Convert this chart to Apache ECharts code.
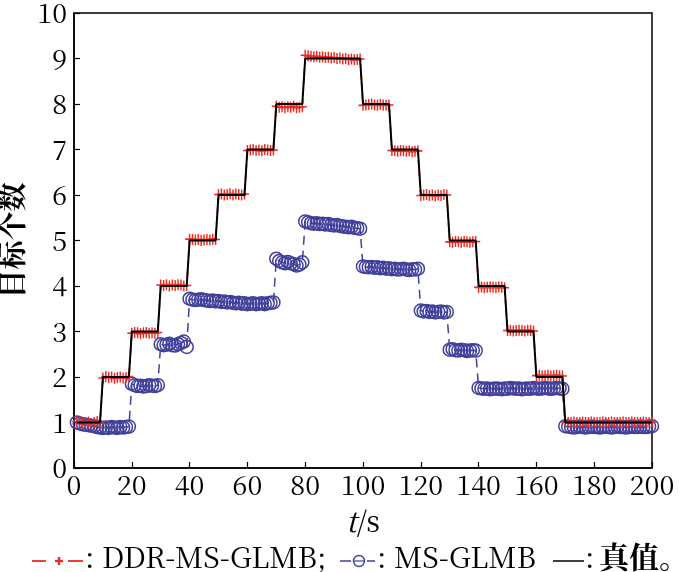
<!DOCTYPE html>
<html>
<head>
<meta charset="utf-8">
<script src="https://cdn.jsdelivr.net/npm/echarts@6/dist/echarts.min.js"></script>
<style>
  html, body { margin: 0; padding: 0; background: #fff; }
  #chart { width: 700px; height: 572px; }
</style>
</head>
<body>
<div id="chart"></div>
<script>
// 时间步 t = 1..200
const xTicks = [0, 20, 40, 60, 80, 100, 120, 140, 160, 180, 200]
const yTicks = [0, 1, 2, 3, 4, 5, 6, 7, 8, 9, 10]

// 真值 (阶梯折点)
const truthT = [1, 9, 10, 19, 20, 29, 30, 39, 40, 49, 50, 59, 60, 69, 70, 79, 80, 99,
  100, 109, 110, 119, 120, 129, 130, 139, 140, 149, 150, 159, 160, 169, 170, 200]
const truthN = [1, 1, 2, 2, 3, 3, 4, 4, 5, 5, 6, 6, 7, 7, 8, 8, 9, 9,
  8, 8, 7, 7, 6, 6, 5, 5, 4, 4, 3, 3, 2, 2, 1, 1]

// DDR-MS-GLMB 估计
const ddrN = [
  1.02, 1.01, 0.99, 1.0, 1.01, 0.98, 1.0, 1.02, 0.99,
  1.98, 2.01, 1.99, 2.0, 1.97, 1.99, 2.0, 1.98, 1.99, 2.01,
  2.96, 2.98, 2.97, 2.95, 2.97, 2.98, 2.96, 2.97, 2.96, 2.98,
  4.02, 4.01, 4.03, 4.0, 4.02, 4.01, 4.03, 4.02, 4.0, 4.01,
  5.03, 5.02, 5.01, 5.02, 5.0, 5.01, 5.02, 5.01, 5.03, 5.02,
  6.01, 6.02, 6.0, 6.01, 6.03, 6.0, 6.02, 6.01, 6.0, 6.02,
  6.98, 6.99, 7.0, 6.98, 6.99, 6.97, 7.0, 6.99, 6.98, 6.99,
  7.95, 7.93, 7.94, 7.92, 7.94, 7.93, 7.95, 7.92, 7.93, 7.94,
  9.07, 9.06, 9.05, 9.04, 9.05, 9.03, 9.04, 9.02, 9.03, 9.01,
  9.02, 9.0, 9.01, 8.99, 9.0, 8.98, 8.99, 8.97, 8.98, 8.99,
  7.97, 7.98, 7.99, 8.0, 7.98, 7.97, 7.99, 7.98, 7.97, 7.98,
  6.98, 6.97, 6.96, 6.98, 6.97, 6.96, 6.97, 6.95, 6.96, 6.97,
  5.99, 6.0, 6.01, 5.99, 6.0, 5.98, 6.0, 5.99, 6.01, 6.0,
  4.97, 4.96, 4.98, 4.97, 4.96, 4.98, 4.97, 4.96, 4.97, 4.98,
  3.97, 3.98, 3.96, 3.97, 3.98, 3.97, 3.96, 3.98, 3.97, 3.96,
  3.02, 3.03, 3.01, 3.02, 3.03, 3.02, 3.01, 3.03, 3.02, 3.01,
  2.03, 2.04, 2.02, 2.03, 2.04, 2.02, 2.03, 2.04, 2.03, 2.02,
  1.01, 1.0, 1.0, 1.01, 1.0, 1.0, 1.01, 1.0, 1.0, 1.01,
  1.0, 1.0, 1.0, 1.01, 1.0, 1.0, 1.01, 1.0, 1.0, 1.0,
  1.01, 1.0, 1.0, 1.01, 1.0, 1.0, 1.0, 1.01, 1.0, 1.0, 1.01
]

// MS-GLMB 估计
const msN = [
  1.0, 0.98, 0.96, 0.95, 0.94, 0.93, 0.92, 0.9, 0.89, 0.88,
  0.89, 0.88, 0.9, 0.89, 0.88, 0.9, 0.89, 0.9, 0.91,
  1.85, 1.82, 1.8, 1.81, 1.79, 1.8, 1.82, 1.81, 1.8, 1.82,
  2.72, 2.7, 2.71, 2.73, 2.7, 2.69, 2.72, 2.75, 2.78, 2.66,
  3.72, 3.7, 3.69, 3.7, 3.71, 3.69, 3.68, 3.67, 3.68, 3.66,
  3.67, 3.65, 3.66, 3.64, 3.65, 3.63, 3.62, 3.63, 3.61, 3.62,
  3.6, 3.61, 3.62, 3.6, 3.61, 3.62, 3.6, 3.62, 3.63, 3.64,
  4.6, 4.55, 4.52, 4.5, 4.53, 4.5, 4.48, 4.45, 4.47, 4.52,
  5.42, 5.4, 5.38, 5.37, 5.38, 5.36, 5.37, 5.35, 5.36, 5.34,
  5.33, 5.34, 5.32, 5.31, 5.3, 5.29, 5.3, 5.28, 5.27, 5.26,
  4.43, 4.42, 4.41, 4.42, 4.4, 4.41, 4.39, 4.4, 4.38, 4.39,
  4.37, 4.38, 4.36, 4.37, 4.38, 4.36, 4.35, 4.37, 4.36, 4.38,
  3.46, 3.44, 3.45, 3.43, 3.44, 3.42, 3.43, 3.44, 3.42, 3.43,
  2.6, 2.61, 2.59, 2.58, 2.6, 2.59, 2.57, 2.58, 2.59, 2.58,
  1.76, 1.75, 1.74, 1.75, 1.73, 1.74, 1.75, 1.74, 1.73, 1.75,
  1.74, 1.76, 1.75, 1.74, 1.75, 1.73, 1.74, 1.75, 1.74, 1.76,
  1.75, 1.74, 1.75, 1.76, 1.75, 1.74, 1.75, 1.76, 1.75, 1.74,
  0.92, 0.91, 0.9, 0.89, 0.9, 0.91, 0.9, 0.89, 0.9, 0.91,
  0.9, 0.9, 0.89, 0.9, 0.91, 0.9, 0.89, 0.9, 0.91, 0.9,
  0.9, 0.89, 0.9, 0.91, 0.9, 0.9, 0.91, 0.9, 0.9, 0.91, 0.92
]

const RED = '#ee2b21'
const BLUE = '#40409c'
// 西文与中文都用 Noto Serif CJK SC (自带衬线西文字形)
const SERIF = 'Noto Serif CJK SC'
const CJK = 'Noto Serif CJK SC'
const PLUS = 'path://M4.2,0H5.8V4.3H10V5.7H5.8V10H4.2V5.7H0V4.3H4.2Z'

const steps = ddrN.map((v, i) => i + 1)
const ddrData = ddrN.map((v, i) => [steps[i], v])
const msData = msN.map((v, i) => [steps[i], v])
const truthData = truthN.map((v, i) => [truthT[i], v])

const myChart = echarts.init(document.getElementById('chart'), null, { renderer: 'canvas' })

const legendY = 561
const txt = (x, text, family, size, weight) => ({
  type: 'text', x: x, y: 557,
  style: { text: text, fontFamily: family, fontSize: size, fontWeight: weight || 'normal', fill: '#000', verticalAlign: 'middle' }
})

myChart.setOption({
  animation: false,
  backgroundColor: '#fff',
  textStyle: { fontFamily: SERIF },
  grid: {
    left: 74, right: 48, top: 13, bottom: 104,
    outerBoundsMode: 'none', containLabel: false,
    show: true, borderColor: '#000', borderWidth: 1.5
  },
  xAxis: {
    type: 'value', min: 0, max: 200, interval: 20,
    name: '{i|t}/s', nameLocation: 'middle', nameGap: 38,
    nameTextStyle: {
      fontFamily: SERIF, fontSize: 29, color: '#000',
      rich: { i: { fontFamily: SERIF, fontSize: 29, fontStyle: 'italic', color: '#000' } }
    },
    axisLine: { lineStyle: { color: '#000', width: 1.5 } },
    axisTick: { inside: true, length: 6, lineStyle: { color: '#000', width: 1.2 } },
    axisLabel: { fontFamily: SERIF, fontSize: 27, color: '#000', margin: 3,
      formatter: v => (xTicks.includes(v) ? String(v) : '') },
    splitLine: { show: false }
  },
  yAxis: {
    type: 'value', min: 0, max: 10, interval: 1,
    name: '目标个数', nameLocation: 'middle', nameGap: 44, nameRotate: 90,
    nameTextStyle: { fontFamily: CJK, fontSize: 29, fontWeight: 'bold', color: '#000' },
    axisLine: { lineStyle: { color: '#000', width: 1.5 } },
    axisTick: { inside: true, length: 6, lineStyle: { color: '#000', width: 1.2 } },
    axisLabel: { fontFamily: SERIF, fontSize: 27, color: '#000', margin: 7,
      formatter: v => (yTicks.includes(v) ? String(v) : '') },
    splitLine: { show: false }
  },
  series: [
    {
      name: 'MS-GLMB', type: 'line', data: msData, z: 2,
      symbol: 'circle', symbolSize: 13, showAllSymbol: true,
      lineStyle: { color: BLUE, width: 1.5, type: [9, 6] },
      itemStyle: { color: 'rgba(0,0,0,0)', borderColor: BLUE, borderWidth: 1.5 },
      emphasis: { disabled: true }
    },
    {
      name: 'DDR-MS-GLMB', type: 'line', data: ddrData, z: 3,
      symbol: PLUS, symbolSize: [9, 11], showAllSymbol: true,
      lineStyle: { color: RED, width: 1.6, type: [6, 4] },
      itemStyle: { color: RED },
      emphasis: { disabled: true }
    },
    {
      name: '真值', type: 'line', data: truthData, z: 4,
      symbol: 'none',
      lineStyle: { color: '#000', width: 2 },
      emphasis: { disabled: true }
    }
  ],
  // 底部图例
  graphic: [
    { type: 'line', shape: { x1: 32, y1: legendY, x2: 46, y2: legendY }, style: { stroke: RED, lineWidth: 1.8 } },
    { type: 'line', shape: { x1: 55, y1: legendY, x2: 63, y2: legendY }, style: { stroke: RED, lineWidth: 2.4 } },
    { type: 'line', shape: { x1: 59, y1: legendY - 4, x2: 59, y2: legendY + 4 }, style: { stroke: RED, lineWidth: 2.4 } },
    { type: 'line', shape: { x1: 68, y1: legendY, x2: 83, y2: legendY }, style: { stroke: RED, lineWidth: 1.8 } },
    txt(85, ': DDR-MS-GLMB;', SERIF, 29),

    { type: 'line', shape: { x1: 340, y1: legendY, x2: 351, y2: legendY }, style: { stroke: BLUE, lineWidth: 1.5 } },
    { type: 'circle', shape: { cx: 359, cy: legendY, r: 5.5 }, style: { stroke: BLUE, fill: 'none', lineWidth: 1.4 } },
    { type: 'line', shape: { x1: 353, y1: legendY, x2: 365, y2: legendY }, style: { stroke: BLUE, lineWidth: 1.2 } },
    { type: 'line', shape: { x1: 367, y1: legendY, x2: 375, y2: legendY }, style: { stroke: BLUE, lineWidth: 1.5 } },
    txt(377, ': MS-GLMB', SERIF, 29),

    { type: 'line', shape: { x1: 553, y1: legendY, x2: 584, y2: legendY }, style: { stroke: '#000', lineWidth: 1.5 } },
    txt(585, ':', SERIF, 29),
    txt(599, '真值。', CJK, 30, 'bold')
  ]
})
</script>
</body>
</html>
